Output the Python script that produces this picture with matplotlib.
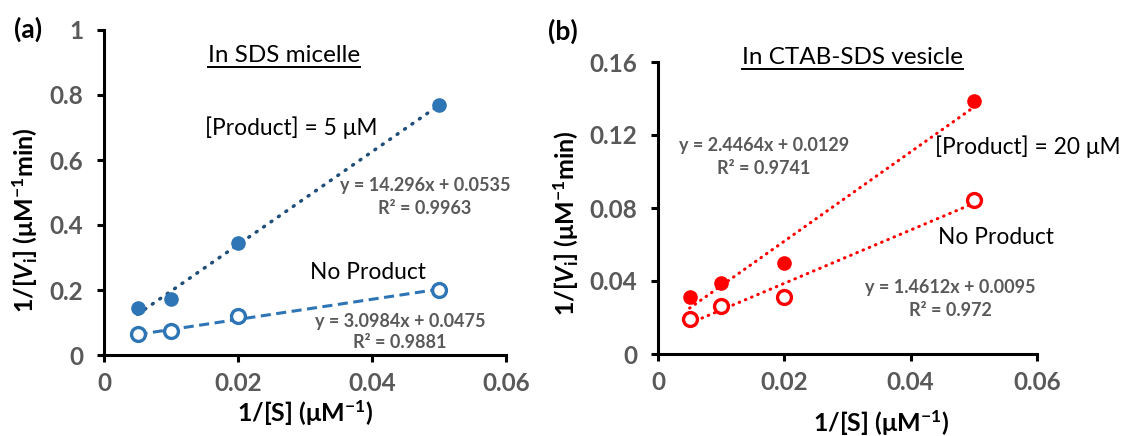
import numpy as np
import matplotlib
matplotlib.use("Agg")
import matplotlib.pyplot as plt
from matplotlib.lines import Line2D

plt.rcParams["font.family"] = ["Lato", "DejaVu Sans"]
plt.rcParams["mathtext.fontset"] = "custom"
plt.rcParams["mathtext.rm"] = "Lato"
plt.rcParams["mathtext.bf"] = "Lato:bold"
plt.rcParams["mathtext.it"] = "Lato:italic"
plt.rcParams["mathtext.bfit"] = "Lato:italic:bold"

# ---------------------------------------------------------------------------
# Data
# ---------------------------------------------------------------------------
inv_s = [0.005, 0.01, 0.02, 0.05]

# (a) SDS micelle
sds_product = [0.145, 0.172, 0.345, 0.77]
sds_none = [0.064, 0.074, 0.12, 0.201]
sds_fit_product = (14.296, 0.0535, 0.9963)
sds_fit_none = (3.0984, 0.0475, 0.9881)

# (b) CTAB-SDS vesicle
ves_product = [0.031, 0.039, 0.0497, 0.1388]
ves_none = [0.019, 0.0263, 0.0311, 0.0844]
ves_fit_product = (2.4464, 0.0129, 0.9741)
ves_fit_none = (1.4612, 0.0095, 0.972)

x_ticks = [0, 0.02, 0.04, 0.06]
x_tick_labels = ["0", "0.02", "0.04", "0.06"]
a_y_ticks = [0, 0.2, 0.4, 0.6, 0.8, 1]
a_y_tick_labels = ["0", "0.2", "0.4", "0.6", "0.8", "1"]
b_y_ticks = [0, 0.04, 0.08, 0.12, 0.16]
b_y_tick_labels = ["0", "0.04", "0.08", "0.12", "0.16"]

BLUE = "#2E75B6"
NAVY = "#1F4E79"
RED = "#FF0000"
GREY = "#595959"

W, H = 1121, 436
fig = plt.figure(figsize=(W / 100, H / 100), dpi=100)
ax_a = fig.add_axes([104 / W, (H - 355) / H, 402 / W, 325 / H])
ax_b = fig.add_axes([658 / W, (H - 354) / H, 379 / W, 292 / H])


def style_axes(ax, yticks, ylabels, ymax):
    ax.set_xlim(0, 0.06)
    ax.set_ylim(0, ymax)
    for side in ["top", "right"]:
        ax.spines[side].set_visible(False)
    for side in ["left", "bottom"]:
        ax.spines[side].set_linewidth(2.2)
        ax.spines[side].set_color("black")
    ax.set_xticks(x_ticks)
    ax.set_xticklabels(x_tick_labels)
    ax.set_yticks(yticks)
    ax.set_yticklabels(ylabels)
    ax.tick_params(direction="out", length=5, width=2.2, color="black",
                   labelsize=17.5, labelcolor=GREY)
    ax.tick_params(axis="x", pad=7)
    ax.tick_params(axis="y", pad=10)
    for lab in ax.get_xticklabels() + ax.get_yticklabels():
        lab.set_fontweight("bold")
    ax.set_xlabel("1/[S] (μM$^{\\mathbf{-1}}$)", fontsize=18,
                  fontweight="bold", va="center")
    ax.set_ylabel("1/[$\\mathbfit{V}_{\\mathbf{i}}$] (μM$^{\\mathbf{-1}}$min)",
                  fontsize=18, fontweight="bold", va="center")


def fit_line(fit, xs):
    xs = np.array([xs[0], xs[-1]])
    return xs, fit[0] * xs + fit[1]


def eq_text(ax, fit, x, y):
    ax.text(x, y, f"y = {fit[0]}x + {fit[1]}", ha="center", va="center",
            fontsize=13, fontweight="bold", color=GREY)


def r2_text(ax, fit, x, y):
    ax.text(x, y, f"R² = {fit[2]}", ha="center", va="center",
            fontsize=13, fontweight="bold", color=GREY)


# ---------------------------------------------------------------------------
# Panel (a)
# ---------------------------------------------------------------------------
style_axes(ax_a, a_y_ticks, a_y_tick_labels, 1)
xs, ys = fit_line(sds_fit_product, inv_s)
ax_a.plot(xs, ys, color=NAVY, lw=2.5, linestyle=(0, (0.3, 2.3)),
          dash_capstyle="round", zorder=2)
xs, ys = fit_line(sds_fit_none, inv_s)
ax_a.plot(xs, ys, color=BLUE, lw=2.2, linestyle=(0, (3.3, 1.8)), zorder=2)
ax_a.plot(inv_s, sds_product, "o", color=BLUE, ms=9.5, zorder=3,
          clip_on=False)
ax_a.plot(inv_s, sds_none, "o", mfc="white", mec=BLUE, mew=2.4, ms=10,
          zorder=3, clip_on=False)

ax_a.yaxis.set_label_coords(-0.1965, 0.415)
ax_a.xaxis.set_label_coords(0.5, -0.178)

ax_a.text(0.0279, 0.698, "[Product] = 5 μM", ha="center", va="center",
          fontsize=16.4)
ax_a.text(0.0394, 0.255, "No Product", ha="center", va="center",
          fontsize=16.4)
eq_text(ax_a, sds_fit_product, 0.0479, 0.523)
r2_text(ax_a, sds_fit_product, 0.0479, 0.452)
eq_text(ax_a, sds_fit_none, 0.0442, 0.1046)
r2_text(ax_a, sds_fit_none, 0.0442, 0.040)
title_a = ax_a.text(0.02687, 0.923, "In SDS micelle", ha="center",
                    va="center", fontsize=17.5)

# ---------------------------------------------------------------------------
# Panel (b)
# ---------------------------------------------------------------------------
style_axes(ax_b, b_y_ticks, b_y_tick_labels, 0.16)
for fit in (ves_fit_product, ves_fit_none):
    xs, ys = fit_line(fit, inv_s)
    ax_b.plot(xs, ys, color=RED, lw=2.2, linestyle=(0, (0.2, 2.0)),
              dash_capstyle="round", zorder=2)
ax_b.plot(inv_s, ves_product, "o", color=RED, ms=9.5, zorder=3,
          clip_on=False)
ax_b.plot(inv_s, ves_none, "o", mfc="white", mec=RED, mew=2.4, ms=10,
          zorder=3, clip_on=False)

ax_b.yaxis.set_label_coords(-0.243, 0.448)
ax_b.xaxis.set_label_coords(0.588, -0.236)

ax_b.text(0.04385, 0.1134, "[Product] = 20 μM", ha="left", va="center",
          fontsize=16.4, clip_on=False)
ax_b.text(0.04433, 0.0641, "No Product", ha="left", va="center",
          fontsize=16.4)
eq_text(ax_b, ves_fit_product, 0.01678, 0.114)
r2_text(ax_b, ves_fit_product, 0.01678, 0.1014)
eq_text(ax_b, ves_fit_none, 0.04623, 0.0362)
r2_text(ax_b, ves_fit_none, 0.04623, 0.0236)
title_b = ax_b.text(0.03087, 0.1622, "In CTAB-SDS vesicle", ha="center",
                    va="center", fontsize=17.5, clip_on=False)

# panel letters
fig.text(28 / W, 1 - 29 / H, "(a)", ha="center", va="center", fontsize=19,
         fontweight="bold")
fig.text(563 / W, 1 - 31 / H, "(b)", ha="center", va="center", fontsize=19,
         fontweight="bold")

# underline the panel titles
fig.canvas.draw()
renderer = fig.canvas.get_renderer()
for t in (title_a, title_b):
    bb = t.get_window_extent(renderer)
    yline = (bb.y0 - 1) / H
    fig.add_artist(Line2D([bb.x0 / W, bb.x1 / W], [yline, yline],
                          color="black", lw=1.4))

fig.savefig("out.png", dpi=100)
